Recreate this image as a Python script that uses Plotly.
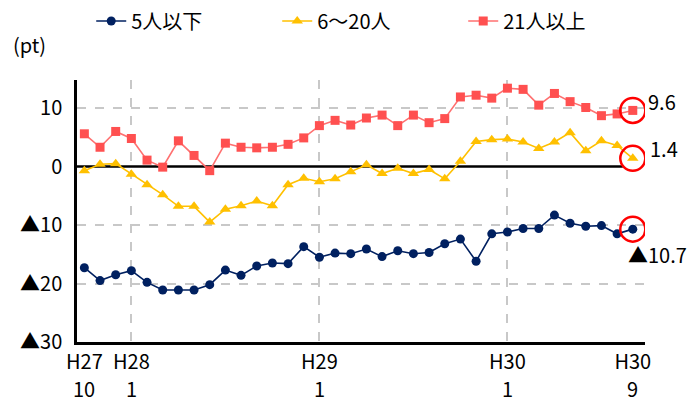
import plotly.graph_objects as go

# ---- data ----
red_vals = [5.6, 3.3, 6.0, 4.8, 1.1, -0.1, 4.4, 1.9, -0.7, 4.0, 3.3, 3.2, 3.3, 3.8, 4.9, 7.0,
            7.9, 7.1, 8.3, 8.8, 7.0, 8.8, 7.5, 8.2, 11.9, 12.2, 11.7, 13.4, 13.2, 10.5, 12.5,
            11.1, 10.1, 8.7, 9.0, 9.6]
yellow_vals = [-0.7, 0.4, 0.5, -1.3, -3.1, -4.8, -6.8, -6.8, -9.5, -7.3, -6.7, -5.9, -6.7, -3.1, -2.0, -2.6,
               -2.1, -0.9, 0.3, -1.2, -0.3, -1.2, -0.5, -2.1, 0.9, 4.3, 4.6, 4.7, 4.2, 3.1, 4.2,
               5.8, 2.7, 4.4, 3.6, 1.4]
blue_vals = [-17.3, -19.5, -18.5, -17.8, -19.8, -21.1, -21.1, -21.1, -20.2, -17.7, -18.6, -17.0, -16.5, -16.6, -13.7, -15.5,
             -14.8, -14.9, -14.1, -15.4, -14.4, -14.9, -14.7, -13.2, -12.4, -16.2, -11.5, -11.2, -10.6, -10.6, -8.3,
             -9.7, -10.2, -10.1, -11.5, -10.7]
series_names = ["5人以下", "6〜20人", "21人以上"]

tick_idx = [0, 3, 15, 27, 35]
tick_year = ["H27", "H28", "H29", "H30", "H30"]
tick_month = ["10", "1", "1", "1", "9"]
vgrid_idx = [3, 15, 27]

y_ticks = [10, 0, -10, -20, -30]
y_ticktext = ["10", "0", "▲10", "▲20", "▲30"]
hgrid_vals = [10, -10, -20]

x = list(range(len(blue_vals)))
FONT = "Noto Sans CJK JP, Noto Sans, sans-serif"
FS = 20

def fmt(v):
    return ("▲" if v < 0 else "") + f"{abs(v):.1f}"

fig = go.Figure()
styles = [
    (blue_vals, series_names[0], "#002060", "#002060", "circle", 9),
    (yellow_vals, series_names[1], "#FFC000", "#FFC000", "triangle-up", 10),
    (red_vals, series_names[2], "#FF7070", "#FF5050", "square", 9),
]
for vals, name, lc, mc, sym, sz in styles:
    fig.add_trace(go.Scatter(
        x=x, y=vals, name=name, mode="lines+markers",
        line=dict(color=lc, width=1.6),
        marker=dict(color=mc, symbol=sym, size=sz, line=dict(width=0)),
    ))

grid_style = dict(showgrid=True, gridcolor="#C8C8C8", griddash="dash", gridwidth=1.5, ticks="")

fig.update_layout(
    width=691, height=395,
    margin=dict(l=69, r=54, t=72, b=61, autoexpand=False),
    paper_bgcolor="white", plot_bgcolor="white",
    font=dict(family=FONT, size=FS, color="black"),
    showlegend=True,
    legend=dict(orientation="h", x=0.018, y=1.225, xanchor="left", yanchor="middle",
                entrywidth=141, entrywidthmode="pixels", font=dict(size=FS),
                bgcolor="rgba(0,0,0,0)", bordercolor="rgba(0,0,0,0)", borderwidth=4,
                traceorder="normal"),
    xaxis=dict(range=[-0.47, 35.78], tickmode="array", tickvals=tick_idx, ticktext=tick_year,
               showgrid=False, zeroline=False, showline=True, linecolor="black", linewidth=2.5,
               ticks="", tickfont=dict(size=FS),
               minor=dict(tickmode="array", tickvals=vgrid_idx, **grid_style)),
    yaxis=dict(range=[-30, 14.8], tickmode="array", tickvals=y_ticks, ticktext=y_ticktext,
               showgrid=False, zeroline=False, showline=True, linecolor="black", linewidth=2.5,
               ticks="", tickfont=dict(size=FS), ticklabelstandoff=8,
               minor=dict(tickmode="array", tickvals=hgrid_vals, **grid_style)),
)

# zero line
fig.add_shape(type="line", xref="paper", x0=0, x1=0.961, yref="y", y0=0, y1=0,
              line=dict(color="black", width=2.5), layer="below")

# month row of x labels
for xi, m in zip(tick_idx, tick_month):
    fig.add_annotation(x=xi, xref="x", y=0, yref="paper", text=m, showarrow=False,
                       yanchor="middle", yshift=-46, font=dict(size=FS))

# "(pt)" unit label
fig.add_annotation(x=-0.116, xref="paper", y=1.134, yref="paper", text="(pt)", showarrow=False,
                   xanchor="left", yanchor="middle", font=dict(size=FS))

# end-point circles and labels
last = len(x) - 1
label_offsets = [(-7, -25), (15, 10), (13, 9)]
for (vals, *_), (dx, dy) in zip(styles, label_offsets):
    v = vals[-1]
    fig.add_shape(type="circle", xref="x", yref="y", xsizemode="pixel", ysizemode="pixel",
                  xanchor=last, yanchor=v, x0=-12.5, x1=12.5, y0=-12.5, y1=12.5,
                  line=dict(color="#FF0000", width=2.5))
    fig.add_annotation(x=last, y=v, xref="x", yref="y", text=fmt(v), showarrow=False,
                       xanchor="left", yanchor="middle", xshift=dx, yshift=dy,
                       font=dict(size=FS))

fig.write_html("out.html")
